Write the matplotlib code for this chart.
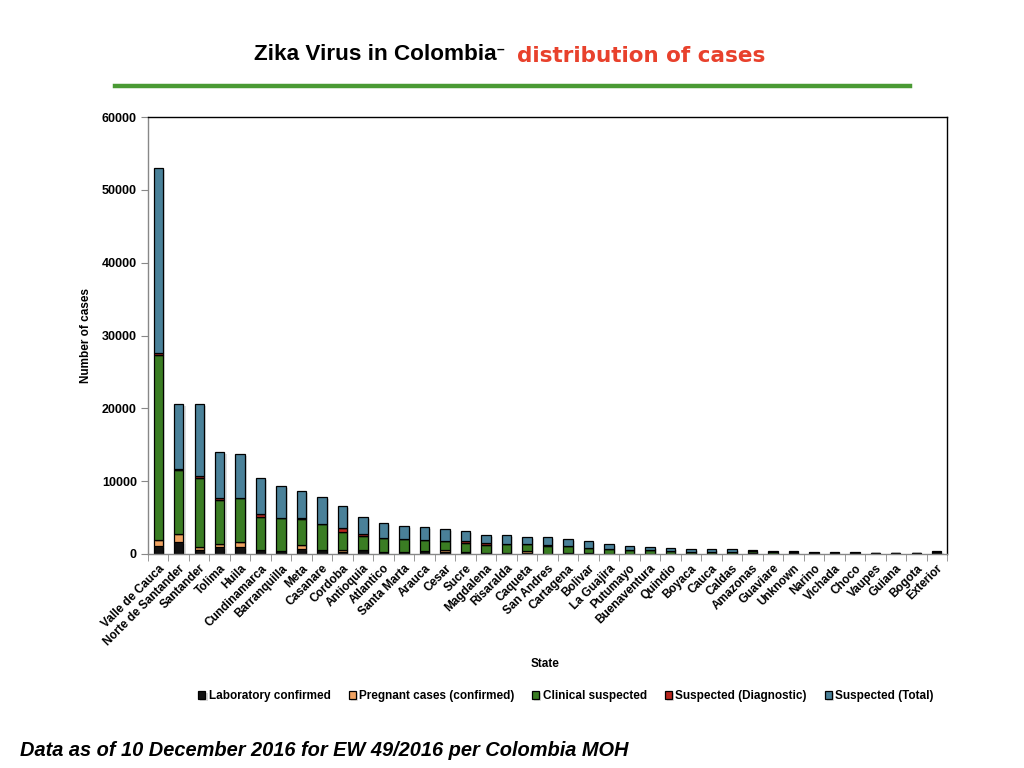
import matplotlib.pyplot as plt
import matplotlib.patheffects as pe
import numpy as np

plt.rcParams['font.family'] = ['Liberation Sans', 'DejaVu Sans']

states = ["Valle de Cauca", "Norte de Santander", "Santander", "Tolima", "Huila",
          "Cundinamarca", "Barranquilla", "Meta", "Casanare", "Cordoba",
          "Antioquia", "Atlantico", "Santa Marta", "Arauca", "Cesar", "Sucre",
          "Magdalena", "Risaralda", "Caqueta", "San Andres", "Cartagena",
          "Bolivar", "La Guajira", "Putumayo", "Buenaventura", "Quindio",
          "Boyaca", "Cauca", "Caldas", "Amazonas", "Guaviare", "Unknown",
          "Narino", "Vichada", "Choco", "Vaupes", "Guiana", "Bogota", "Exterior"]

# stacked segment heights (cases)
lab_confirmed = [1100, 1650, 500, 960, 960, 550, 410, 690, 550, 270,
                 500, 270, 270, 410, 230, 230, 180, 180, 180, 50, 180,
                 80, 50, 40, 30, 20, 20, 20, 20, 150, 20, 300,
                 50, 50, 50, 30, 30, 30, 300]
pregnant = [780, 1050, 400, 410, 690, 0, 0, 550, 0, 280,
            0, 0, 0, 0, 270, 0, 0, 0, 270, 0, 0,
            0, 0, 0, 0, 0, 0, 0, 0, 0, 0, 0,
            0, 0, 0, 0, 0, 0, 0]
clinical = [25450, 8800, 9500, 6000, 6000, 4490, 4490, 3560, 3570, 2470,
            1930, 1930, 1790, 1560, 1280, 1280, 1060, 1150, 880, 1100, 920,
            700, 640, 460, 470, 350, 300, 300, 300, 250, 250, 40,
            150, 150, 150, 100, 100, 100, 40]
susp_diag = [230, 180, 270, 320, 50, 450, 30, 100, 30, 550,
             320, 20, 20, 20, 60, 230, 230, 20, 20, 20, 20,
             50, 50, 20, 10, 10, 10, 10, 10, 0, 0, 0,
             0, 0, 0, 0, 0, 0, 0]
susp_total = [25440, 8920, 9930, 6280, 5990, 4950, 4410, 3750, 3680, 3020,
              2330, 2040, 1770, 1670, 1550, 1370, 1100, 1220, 940, 1120, 900,
              910, 590, 530, 410, 400, 310, 310, 310, 150, 100, 30,
              70, 70, 70, 50, 50, 50, 30]

series = [("Laboratory confirmed", lab_confirmed, "#111111"),
          ("Pregnant cases (confirmed)", pregnant, "#F0A362"),
          ("Clinical suspected", clinical, "#3A7D23"),
          ("Suspected (Diagnostic)", susp_diag, "#B8261E"),
          ("Suspected (Total)", susp_total, "#4A8199")]

fig = plt.figure(figsize=(10.24, 7.68), dpi=100)
ax = fig.add_axes([148 / 1024, 1 - 554 / 768, 799 / 1024, 437 / 768])

x = np.arange(len(states))
bottom = np.zeros(len(states))
shadow = [pe.SimplePatchShadow(offset=(1.5, -1.5), alpha=0.15), pe.Normal()]
for name, vals, col in series:
    vals = np.array(vals, dtype=float)
    bars = ax.bar(x, vals, 0.46, bottom=bottom, color=col, edgecolor="black",
                  linewidth=0.9, label=name)
    for b in bars:
        b.set_path_effects(shadow)
    bottom += vals

ax.set_xlim(-0.5, len(states) - 0.5)
ax.set_ylim(0, 60000)
ax.set_yticks(np.arange(0, 60001, 10000))
ax.set_yticklabels([str(v) for v in range(0, 60001, 10000)],
                   fontsize=9, fontweight="bold")
ax.set_xticks(x)
ax.set_xticklabels(states, rotation=45, ha="right", rotation_mode="anchor",
                   fontsize=8.5, fontweight="bold")
ax.set_xticks(np.arange(-0.5, len(states), 1), minor=True)
ax.tick_params(axis="x", which="major", length=0, pad=6)
ax.tick_params(axis="x", which="minor", length=5, color="#888888", direction="out")
ax.tick_params(axis="y", length=5, color="#888888", direction="out", pad=3)

ax.spines["left"].set_color("#888888")
ax.spines["bottom"].set_color("#888888")
ax.spines["top"].set_color("black")
ax.spines["right"].set_color("black")
for s in ax.spines.values():
    s.set_linewidth(1.0)

ax.set_ylabel("Number of cases", fontsize=8.5, fontweight="bold", labelpad=7)
fig.text(545 / 1024, 1 - 664 / 768, "State", fontsize=8.5, fontweight="bold",
         ha="center", va="center")

handles, labels = ax.get_legend_handles_labels()
fig.legend(handles, labels, loc="center", bbox_to_anchor=(566 / 1024, 1 - 696 / 768),
           ncol=5, frameon=False, handlelength=0.6, handleheight=0.6,
           handletextpad=0.3, columnspacing=1.5,
           prop={"size": 8.5, "weight": "bold"})

# title
fig.text(254 / 1024, 1 - 55 / 768, "Zika Virus in Colombia", fontsize=16.2,
         fontweight="bold", color="black", ha="left", va="center")
fig.text(497 / 1024, 1 - 50 / 768, "\u2013", fontsize=10, fontweight="bold",
         color="black", ha="left", va="center")
fig.text(517 / 1024, 1 - 56 / 768, "distribution of cases", fontsize=15.5,
         fontweight="bold", color="#E8412C", ha="left", va="center",
         family="DejaVu Sans")
fig.add_artist(plt.Line2D([115 / 1024, 910 / 1024], [1 - 86 / 768, 1 - 86 / 768],
                          color="#4A9A34", linewidth=3.2, transform=fig.transFigure))

fig.text(20 / 1024, 1 - 750 / 768,
         "Data as of 10 December 2016 for EW 49/2016 per Colombia MOH",
         fontsize=14.4, fontweight="bold", fontstyle="italic", ha="left", va="center")

fig.savefig("out.png", dpi=100)
